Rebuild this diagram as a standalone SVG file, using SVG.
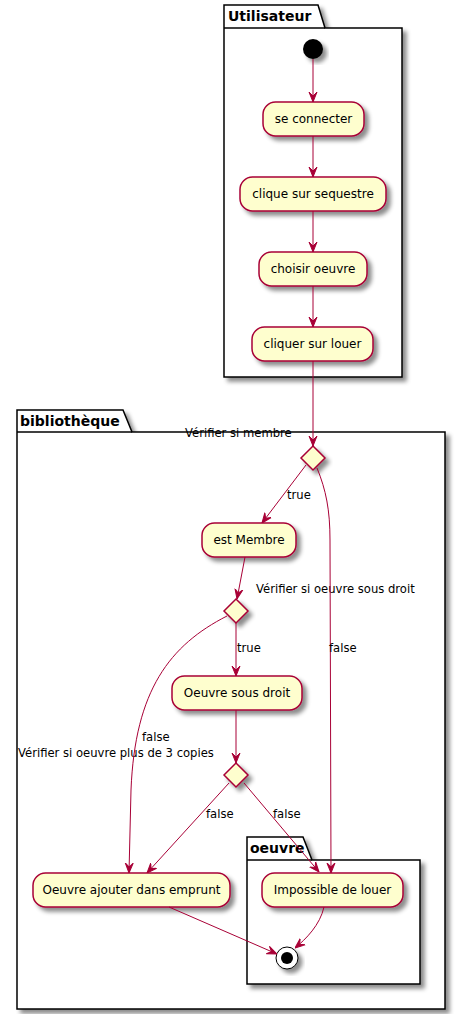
<svg xmlns="http://www.w3.org/2000/svg" width="460" height="1014" viewBox="0 0 460 1014">
<style>
.pkg{fill:#FFFFFF;stroke:#000000;stroke-width:1.5;filter:url(#sh)}
.pkgline{fill:none;stroke:#000000;stroke-width:1.5}
.pt{font-family:"DejaVu Sans",sans-serif;font-size:14px;font-weight:bold;fill:#000}
.act{fill:#FEFECE;stroke:#A80036;stroke-width:1.5;filter:url(#sh)}
.at{font-family:"DejaVu Sans",sans-serif;font-size:12px;fill:#000;text-anchor:middle}
.lbl{font-family:"DejaVu Sans",sans-serif;font-size:11.6px;fill:#000}
.c{fill:none;stroke:#A80036;stroke-width:1;marker-end:url(#ah)}
</style>
<defs>
<filter id="sh" x="-20%" y="-20%" width="150%" height="150%">
<feGaussianBlur in="SourceAlpha" stdDeviation="2" result="b"/>
<feColorMatrix in="b" type="matrix" values="0 0 0 0 0 0 0 0 0 0 0 0 0 0 0 0 0 0 0.45 0" result="c"/>
<feOffset in="c" dx="4" dy="4" result="o"/>
<feMerge><feMergeNode in="o"/><feMergeNode in="SourceGraphic"/></feMerge>
</filter>
<marker id="ah" viewBox="0 0 10 10" refX="10" refY="5" markerWidth="10" markerHeight="10" markerUnits="userSpaceOnUse" orient="auto">
<path d="M10,5 L0,1 L4,5 L0,9 Z" fill="#A80036" stroke="#A80036" stroke-width="1"/>
</marker>
</defs>
<rect width="460" height="1014" fill="#FFFFFF"/>

<g id="pkg-utilisateur">
<path class="pkg" d="M224,5 H318 L325,28 H402 V377 H224 Z"/>
<path class="pkgline" d="M224,28 H325"/>
<text class="pt" x="228" y="21">Utilisateur</text>
</g>
<g id="pkg-bibliotheque">
<path class="pkg" d="M17,410 H123 L132,432 H445 V1009 H17 Z"/>
<path class="pkgline" d="M17,432 H132"/>
<text class="pt" x="20" y="426">bibliothèque</text>
</g>
<g id="pkg-oeuvre">
<path class="pkg" d="M247,837 H303 L312,860 H420 V984 H247 Z"/>
<path class="pkgline" d="M247,860 H312"/>
<text class="pt" x="250" y="853">oeuvre</text>
</g>

<g id="start"><circle cx="313" cy="49" r="10" fill="#000" filter="url(#sh)"/></g>
<g id="n-se-connecter"><rect class="act" x="263" y="102" width="101" height="34" rx="12.5"/><text class="at" x="313.5" y="123">se connecter</text></g>
<g id="n-clique"><rect class="act" x="240" y="177" width="146" height="34" rx="12.5"/><text class="at" x="313" y="198">clique sur sequestre</text></g>
<g id="n-choisir"><rect class="act" x="259" y="252" width="108" height="34" rx="12.5"/><text class="at" x="313" y="273">choisir oeuvre</text></g>
<g id="n-cliquer"><rect class="act" x="252" y="327" width="121" height="34" rx="12.5"/><text class="at" x="312.5" y="348">cliquer sur louer</text></g>
<g id="d-membre"><polygon class="act" points="313,446 325,458 313,470 301,458"/><text class="lbl" x="185" y="437">Vérifier si membre</text></g>
<g id="n-est-membre"><rect class="act" x="202" y="523" width="94" height="34" rx="12.5"/><text class="at" x="249" y="544">est Membre</text></g>
<g id="d-droit"><polygon class="act" points="236,599 248,611 236,623 224,611"/><text class="lbl" x="256" y="593">Vérifier si oeuvre sous droit</text></g>
<g id="n-sous-droit"><rect class="act" x="172" y="676" width="130" height="34" rx="12.5"/><text class="at" x="237" y="697">Oeuvre sous droit</text></g>
<g id="d-copies"><polygon class="act" points="236,763 248,775 236,787 224,775"/><text class="lbl" x="18" y="757">Vérifier si oeuvre plus de 3 copies</text></g>
<g id="n-ajouter"><rect class="act" x="33" y="873" width="197" height="34" rx="12.5"/><text class="at" x="131.5" y="894">Oeuvre ajouter dans emprunt</text></g>
<g id="n-impossible"><rect class="act" x="262" y="873" width="141" height="34" rx="12.5"/><text class="at" x="332.5" y="894">Impossible de louer</text></g>
<g id="end"><circle cx="287" cy="958" r="11" fill="#FFFFFF" stroke="#000" stroke-width="1" filter="url(#sh)"/><circle cx="287" cy="958" r="6" fill="#000"/></g>

<g id="connectors">
<path class="c" d="M313,59 V102"/>
<path class="c" d="M313,136 V177"/>
<path class="c" d="M313,211 V252"/>
<path class="c" d="M313,286 V327"/>
<path class="c" d="M313,361 V446"/>
<path class="c" d="M306,465 L262,523"/>
<path class="c" d="M317,468 C326,490 330,510 330,540 L331,873"/>
<path class="c" d="M245,557 L237,599"/>
<path class="c" d="M236,623 V676"/>
<path class="c" d="M227,616 C170,645 135,690 131,790 L129,873"/>
<path class="c" d="M236,710 V763"/>
<path class="c" d="M229,783 L147,873"/>
<path class="c" d="M244,783 L319,872"/>
<path class="c" d="M169,907 L277,954"/>
<path class="c" d="M324,907 C320,925 306,939 295,948"/>
<text class="lbl" x="287" y="499">true</text>
<text class="lbl" x="329" y="652">false</text>
<text class="lbl" x="237" y="652">true</text>
<text class="lbl" x="142" y="741">false</text>
<text class="lbl" x="206" y="818">false</text>
<text class="lbl" x="273" y="818">false</text>
</g>
</svg>
